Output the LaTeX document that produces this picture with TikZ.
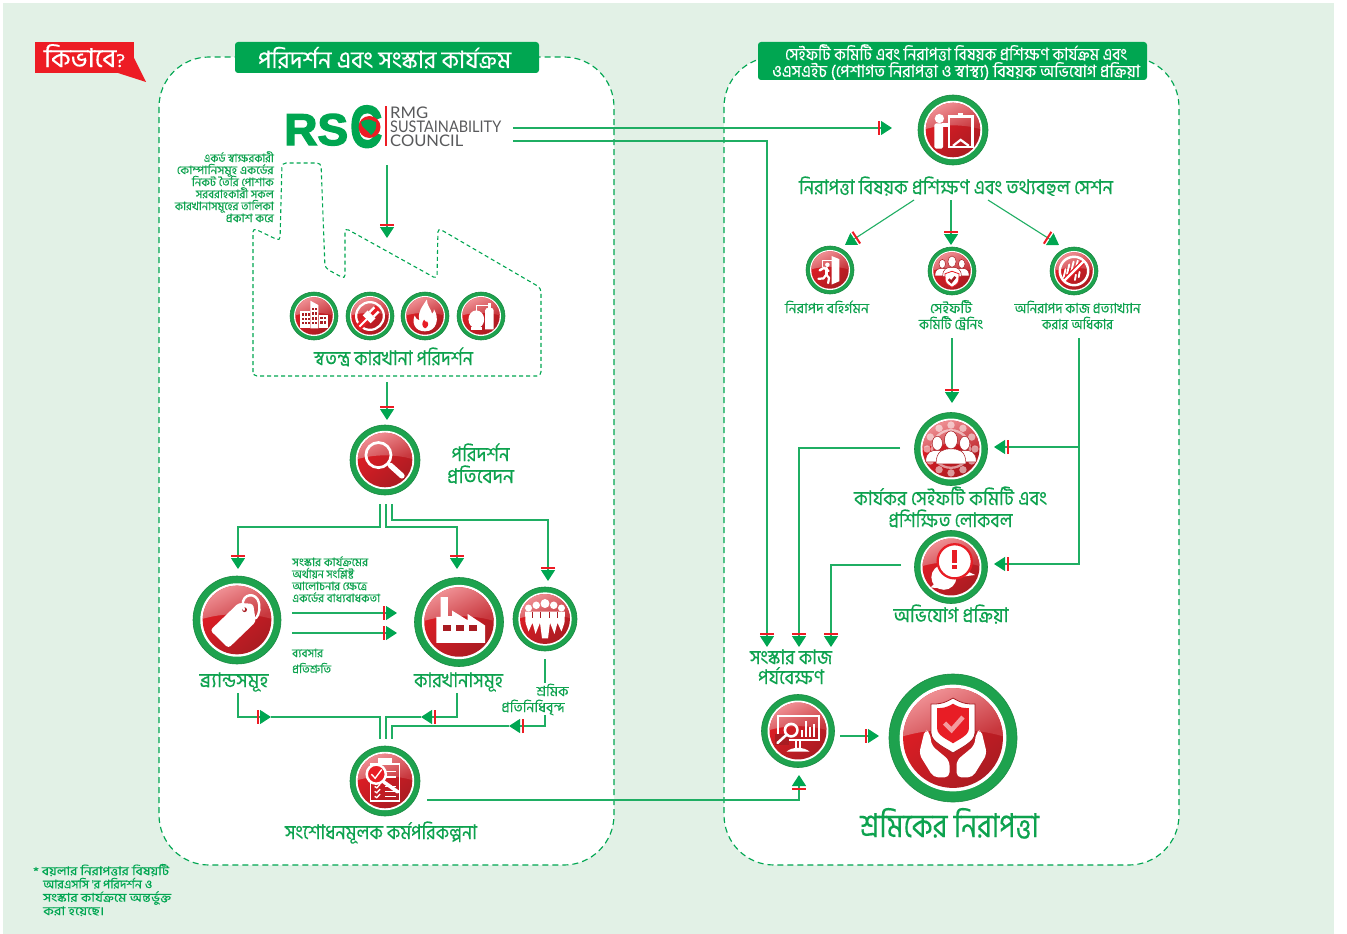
\documentclass[tikz,border=0pt]{standalone}
\usepackage{fontspec}
\usepackage{graphicx}
\usetikzlibrary{arrows.meta}
\newfontfamily\bn[Script=Bengali,FakeBold=0.25]{Hind Siliguri}
\newfontfamily\en{Lato}
\newfontfamily\enb[BoldFeatures={FakeBold=3}]{Liberation Sans}
\definecolor{pagebg}{HTML}{E2F1E6}
\definecolor{tg}{HTML}{0DA24E}
\definecolor{lg}{HTML}{1FAE63}
\definecolor{ag}{HTML}{00A651}
\definecolor{ring}{HTML}{1EA24E}
\definecolor{tick}{HTML}{ED1C24}
\definecolor{rb}{HTML}{E81D25}
\definecolor{rd}{HTML}{A81C22}
\definecolor{gl}{HTML}{F49A9E}
\definecolor{gl2}{HTML}{C8383E}
\definecolor{greytxt}{HTML}{58595B}
\lineskiplimit=-1000pt
\newcommand\ft[3]{\resizebox{#1pt}{\height}{\fontsize{#2}{#2}\selectfont #3}}
\newcommand\pers[4][white]{\begin{scope}[shift={(#2,#3)},scale=#4]
 \filldraw[fill=#1,draw=rd,line width=.5pt] (-.5,.8) .. controls (-.5,.35) and (-.25,.3) .. (0,.3) .. controls (.25,.3) and (.5,.35) .. (.5,.8) -- cycle;
 \filldraw[fill=#1,draw=rd,line width=.5pt] (0,0) ellipse (.22 and .3);
\end{scope}}
\newcommand\icon[5]{%
 \node[iconring,minimum size=#4*2pt] (#1) at (#2,#3) {};
 \pgfmathsetmacro\ru{#4*.78}
 \begin{scope}[shift={(#1.center)},scale=\ru]
  \fill[white] (0,0) circle (1.07);
  \begin{scope}
   \clip (0,0) circle (1);
   \shade[top color=rb,bottom color=rd,shading angle=40] (-1.1,-1.1) rectangle (1.1,1.1);
   \shade[top color=gl,bottom color=gl2,shading angle=25] (-1.05,-.02) .. controls (-.4,-.22) and (.4,-.22) .. (1.05,-.02) -- (1.05,-1.05) -- (-1.05,-1.05) -- cycle;
  \end{scope}
  #5
 \end{scope}}
\tikzset{
 iconring/.style={circle,fill=ring,draw=ring!85!black,line width=.6pt,inner sep=0pt},
 wl/.style={draw=white,line width=#1*\ru pt},
 rl/.style={draw=rd,line width=#1*\ru pt},
 conn/.style={draw=lg,line width=1.1pt},
 arr/.style={conn,-{Bar[color=tick,width=14pt,line width=2pt,sep=1.5pt]Triangle[color=ag,fill=ag,length=11pt,width=14pt]}},
 panel/.style={draw=ag,line width=1.15pt,dash pattern=on 6pt off 4pt,fill=white},
 hdr/.style={fill=ag,rounded corners=3pt,inner sep=0pt},
 bt/.style={text=tg,align=center,inner sep=0pt,anchor=base,font=\bn\fontsize{10}{#1}\selectfont},
 btr/.style={bt=#1,align=right,anchor=base east},
 btl/.style={bt=#1,align=left,anchor=base west},
}
\newcommand\gBuild{
 \fill[white] (-.74,-.28) rectangle (-.22,.66);
 \fill[white] (-.2,-.82) -- (.24,-.58) -- (.24,.66) -- (-.2,.66) -- cycle;
 \fill[white] (.26,-.08) rectangle (.76,.66);
 \foreach \yy in {-.15,.08,.31} \foreach \xx in {-.66,-.5,-.34} \fill[rd] (\xx,\yy) rectangle +(.1,.13);
 \foreach \yy in {-.45,-.2,.05,.3} \foreach \xx in {-.12,.05} \fill[rd] (\xx,\yy) rectangle +(.1,.14);
 \foreach \yy in {.05,.28} \foreach \xx in {.34,.52} \fill[rd] (\xx,\yy) rectangle +(.12,.13);
}
\newcommand\gPlug{
 \draw[wl=.12] (0,0) circle (.74);
 \begin{scope}[rotate=45]
  \fill[rb] (-.9,-.18) rectangle (.62,.18);
  \draw[wl=.1] (-.2,0) .. controls (-.45,0) and (-.5,.05) .. (-.8,0);
  \fill[white] (-.25,-.3) rectangle (.12,.3);
  \fill[white] (.12,-.22) rectangle (.5,-.1);
  \fill[white] (.12,.1) rectangle (.5,.22);
 \end{scope}
}
\newcommand\gFlame{
 \fill[white] (0,.82) .. controls (-.55,.82) and (-.72,.35) .. (-.55,-.02) .. controls (-.48,.16) and (-.38,.22) .. (-.3,.22) .. controls (-.42,-.25) and (-.1,-.55) .. (.1,-.88) .. controls (.1,-.55) and (.32,-.38) .. (.38,-.12) .. controls (.45,-.18) and (.48,-.28) .. (.48,-.36) .. controls (.78,.1) and (.65,.82) .. (0,.82) -- cycle;
 \fill[rb] (0,.66) .. controls (-.16,.58) and (-.2,.38) .. (-.05,.2) .. controls (0,.3) and (.08,.33) .. (.12,.3) .. controls (.22,.44) and (.16,.6) .. (0,.66) -- cycle;
}
\newcommand\gBoiler{
 \fill[white] (-.25,.18) ellipse (.42 and .48);
 \fill[white] (-.55,.6) rectangle (.05,.74);
 \fill[white] (.22,.72) -- (.22,-.3) .. controls (.22,-.5) and (.68,-.5) .. (.68,-.3) -- (.68,.72) -- cycle;
 \fill[white] (.38,-.72) rectangle (.52,-.42);
 \draw[wl=.06] (-.25,-.28) -- (-.25,-.55) -- (.38,-.55);
}
\newcommand\gMag{
 \draw[wl=.1] (-.24,-.18) circle (.46);
 \draw[wl=.2,line cap=round] (.2,.2) -- (.62,.58);
}
\newcommand\gTag{
 \fill[white,rounded corners=3pt] (-.78,.3) -- (-.25,.82) -- (.55,.05) -- (.47,-.47) -- (.05,-.5) -- cycle;
 \fill[rd] (.22,-.3) circle (.07);
 \draw[wl=.07,line cap=round] (.2,-.3) .. controls (.05,-.7) and (.45,-.85) .. (.6,-.6) .. controls (.7,-.4) and (.65,-.15) .. (.55,-.05);
}
\newcommand\gFactory{
 \fill[white] (-.65,.6) -- (-.65,-.15) -- (-.53,-.15) -- (-.53,-.72) -- (-.32,-.72) -- (-.32,-.17) -- (-.2,-.17) -- (-.2,-.33) -- (.25,-.05) -- (.25,-.23) -- (.75,.1) -- (.75,.6) -- cycle;
 \foreach \xx in {-.46,-.08,.3} \fill[rd] (\xx,.1) rectangle +(.23,.16);
}
\newcommand\gWork{
 \fill[white] (-.8,-.3) -- (.8,-.3) -- (.78,.15) -- (.66,.5) -- (.5,.15) -- (.38,.6) -- (.2,.15) -- (.12,.78) -- (-.12,.78) -- (-.2,.15) -- (-.38,.6) -- (-.5,.15) -- (-.66,.5) -- (-.78,.15) -- cycle;
 \fill[white] (-.66,-.44) circle (.14) (-.35,-.55) circle (.15) (0,-.62) circle (.18) (.35,-.55) circle (.15) (.66,-.44) circle (.14);
 \foreach \xx in {-.5,-.18,.18,.5} \draw[rd,line width=.5pt] (\xx,-.3) -- (\xx,-.05);
}
\newcommand\gClip{
 \fill[white] (-.25,-.85) rectangle (.25,-.6);
 \draw[wl=.07,fill=none] (-.53,-.62) rectangle (.53,.73);
 \foreach \yy/\ww in {-.35/.42,-.15/.42,.2/.45,.38/.45,.56/.45} \draw[wl=.05] (\ww-.45,\yy) -- (.42,\yy);
 \foreach \yy in {.2,.38,.56} \draw[wl=.05] (-.38,\yy) -- (-.3,\yy+.05) -- (-.18,\yy-.08);
 \fill[rb] (-.32,-.25) circle (.35);
 \draw[wl=.09] (-.32,-.25) circle (.35);
 \draw[wl=.05] (-.5,-.25) -- (-.36,-.1) -- (-.12,-.42);
 \draw[wl=.13,line cap=round] (-.05,.03) -- (.47,.4);
}
\newcommand\gTrain{
 \fill[white] (-.5,-.42) circle (.17);
 \fill[white,rounded corners=1.5pt] (-.68,-.24) rectangle (-.36,.68);
 \fill[white] (-.4,-.24) rectangle (-.12,-.12);
 \draw[wl=.09] (-.15,-.5) rectangle (.72,.62);
 \fill[white] (.2,-.62) rectangle (.38,-.5);
 \draw[wl=.08] (0,.58) -- (.28,.36) -- (.58,.58);
}
\newcommand\gExit{
 \fill[white] (.08,-.75) -- (.5,-.58) -- (.5,.6) -- (.08,.78) -- cycle;
 \draw[wl=.05] (-.42,-.18) -- (-.42,-.5) -- (.08,-.5);
 \fill[white] (-.14,-.28) circle (.12);
 \draw[wl=.13,line cap=round,line join=round] (-.55,.02) -- (-.32,-.12) -- (-.08,.05);
 \draw[wl=.16,line cap=round] (-.2,-.1) -- (-.2,.25);
 \draw[wl=.12,line cap=round,line join=round] (-.2,.25) -- (-.05,.42) -- (-.1,.7);
 \draw[wl=.12,line cap=round,line join=round] (-.2,.25) -- (-.35,.45) -- (-.62,.47);
}
\newcommand\gTeam{
 \pers{-.52}{-.38}{.8} \pers{.52}{-.38}{.8} \pers{0}{-.5}{1}
 \begin{scope}[shift={(0,.42)},scale=.9]
  \filldraw[fill=white,draw=rb,line width=.8pt] (0,-.45) -- (.42,-.3) -- (.4,.1) .. controls (.36,.3) and (.15,.42) .. (0,.5) .. controls (-.15,.42) and (-.36,.3) .. (-.4,.1) -- (-.42,-.3) -- cycle;
  \draw[rd,line width=.13*\ru pt] (-.2,.02) -- (-.04,.18) -- (.2,-.12);
 \end{scope}
}
\newcommand\gNo{
 \foreach \xx/\yy in {-.45/-.1,-.25/-.35,-.02/-.5,.2/-.55} \draw[wl=.1,line cap=round] (\xx,\yy) -- ({\xx-.12},{\yy+.5});
 \foreach \xx/\yy in {.1/.2,.3/.05} \draw[wl=.1,line cap=round] (\xx,\yy) -- ({\xx-.05},{\yy+.28});
 \draw[rb,line width=.26*\ru pt] (-.6,.6) -- (.6,-.6);
 \draw[wl=.12] (-.55,.55) -- (.55,-.55);
 \draw[wl=.13] (0,0) circle (.76);
}
\newcommand\gGear{
 \foreach \aa in {0,30,...,330} \fill[white,opacity=.55] (\aa:.84) circle (.13);
 \draw[white,opacity=.55,line width=.08*\ru pt] (0,0) circle (.66);
 \pers{-.48}{-.2}{.82} \pers{.48}{-.2}{.82} \pers{0}{-.32}{1.05}
}
\newcommand\gSpeech{
 \fill[white] (-.25,.36) circle (.44);
 \fill[white] (-.55,.55) -- (-.72,.72) -- (-.2,.76) -- cycle;
 \fill[white] (.45,.1) -- (.85,.28) -- (.3,.35) -- cycle;
 \filldraw[fill=white,draw=rb,line width=.08*\ru pt] (.13,-.2) circle (.6);
 \fill[rb] (.04,-.6) rectangle (.2,-.14);
 \fill[rb] (.04,-.07) rectangle (.2,.08);
}
\newcommand\gMonitor{
 \draw[wl=.07] (-.72,-.52) rectangle (.72,.32);
 \fill[rd] (-.82,.12) rectangle (-.3,.5);
 \draw[wl=.09] (-.24,-.03) circle (.22);
 \draw[wl=.09,line cap=round] (-.4,.13) -- (-.72,.42);
 \foreach \xx/\hh in {.1/-.05,.24/-.35,.38/-.15,.52/-.25} \fill[white] (\xx,.22) rectangle ({\xx+.08},\hh);
 \draw[wl=.07] (-.08,.32) -- (-.08,.58) (.08,.32) -- (.08,.58);
 \fill[white] (-.4,.72) .. controls (-.2,.55) and (.2,.55) .. (.4,.72) -- cycle;
}
\newcommand\gHandL{
 \fill[white,rounded corners=5pt] (-.56,-.18) -- (-.68,.32) -- (-.39,.79) -- (-.07,.79) -- (-.07,.45) -- (-.43,.15) -- (-.46,-.1) -- cycle;
}
\newcommand\gHands{
 \gHandL
 \begin{scope}[xscale=-1] \gHandL \end{scope}
 \filldraw[fill=white,draw=rd,line width=.8pt] (0,-.8) .. controls (-.2,-.68) and (-.3,-.68) .. (-.44,-.68) -- (-.44,-.1) .. controls (-.44,.08) and (-.15,.2) .. (0,.3) .. controls (.15,.2) and (.44,.08) .. (.44,-.1) -- (.44,-.68) .. controls (.3,-.68) and (.2,-.68) .. (0,-.8) -- cycle;
 \begin{scope}[shift={(0,-.24)},scale=.72]
 \fill[rb] (0,-.62) .. controls (-.2,-.5) and (-.3,-.5) .. (-.44,-.5) -- (-.44,.08) .. controls (-.44,.26) and (-.15,.38) .. (0,.48) .. controls (.15,.38) and (.44,.26) .. (.44,.08) -- (.44,-.5) .. controls (.3,-.5) and (.2,-.5) .. (0,-.62) -- cycle;
 \end{scope}
 \draw[gl,line width=.09*\ru pt] (-.17,-.3) -- (-.03,-.16) -- (.2,-.42);
}
\begin{document}
\begin{tikzpicture}[x=1pt,y=-1pt]
\useasboundingbox (0,0) rectangle (1347,934);
\fill[pagebg] (3,3) rectangle (1334,934);
\draw[panel,rounded corners=50pt] (159,57) rectangle (614,865);
\draw[panel,rounded corners=50pt] (724,57) rectangle (1179,865);

% how tag
\fill[tick] (35,42) rectangle (134,73);
\fill[tick] (134,58) -- (146,82) -- (118,73) -- cycle;
\node[bt=30,text=white] (how) at (84.5,67) {\ft{81}{26}{কিভাবে{\fontsize{19}{19}\selectfont ?}}};

% headers
\node[hdr,minimum width=304pt,minimum height=31pt] (hleft) at (387,57.5) {};
\node[bt=30,text=white] (hleftt) at (384.5,68) {\ft{253}{24}{পরিদর্শন এবং সংস্কার কার্যক্রম}};
\node[hdr,minimum width=389pt,minimum height=38pt] (hright) at (952.5,61) {};
\node[bt=17,text=white] (hrightt) at (956,77) {\ft{342}{17}{সেইফটি কমিটি এবং নিরাপত্তা বিষয়ক প্রশিক্ষণ কার্যক্রম এবং}\\\ft{368}{17}{ওএসএইচ (পেশাগত নিরাপত্তা ও স্বাস্থ্য) বিষয়ক অভিযোগ প্রক্রিয়া}};

% RSC logo
\node[inner sep=0pt,anchor=base west,text=ag,font=\enb\bfseries] (rsc) at (284,145) {\ft{64}{44.5}{RS}\hspace{2pt}\raisebox{-2pt}{\ft{32}{59}{C}}};
\fill[tick] (369.5,127) circle (11);
\fill[ag] (365,120) .. controls (371,118) and (373,122) .. (376,122) .. controls (377,128) and (375,132) .. (371,135) .. controls (368,130) and (361,128) .. (361,122) -- cycle;
\draw[tick,line width=1.4pt] (386,106) -- (386,146);
\node[inner sep=0pt,anchor=base west,text=greytxt,font=\en,align=left] (council) at (390,118) {\ft{38}{16}{RMG}};
\node[inner sep=0pt,anchor=base west,text=greytxt,font=\en] (council2) at (390,132.5) {\ft{111}{16}{SUSTAINABILITY}};
\node[inner sep=0pt,anchor=base west,text=greytxt,font=\en] (council3) at (390,146.5) {\ft{73}{16}{COUNCIL}};

% list text
\node[btr=12] (listt) at (274,222) {\ft{70}{11.5}{একর্ড স্বাক্ষরকারী}\\\ft{97}{11.5}{কোম্পানিসমূহ একর্ডের}\\\ft{82}{11.5}{নিকট তৈরি পোশাক}\\\ft{78}{11.5}{সরবরাহকারী সকল}\\\ft{99}{11.5}{কারখানাসমূহের তালিকা}\\\ft{48}{11.5}{প্রকাশ করে}};

% factory outline
\draw[draw=ag,line width=1.1pt,dash pattern=on 4pt off 3pt,rounded corners=4pt] (253,376) -- (253,228) -- (280,241) -- (282,163) -- (321,163) -- (325,268) -- (345,279) -- (345,228) -- (437,279) -- (438,228) -- (541,288) -- (541,376) -- cycle;

% inspection icons
\icon{ia}{314}{316}{24}{\gBuild}
\icon{ib}{370}{316}{24}{\gPlug}
\icon{ic}{425}{316}{24}{\gFlame}
\icon{id}{481}{316}{24}{\gBoiler}
\node[bt=20] (indep) at (393.5,365) {\ft{159}{20}{স্বতন্ত্র কারখানা পরিদর্শন}};

\icon{insp}{385}{460}{35}{\gMag}
\node[bt=22] (insplab) at (480.5,483) {\ft{58}{20}{পরিদর্শন}\\\ft{67}{20}{প্রতিবেদন}};

\icon{brand}{237}{620}{44}{\gTag}
\icon{fact}{459}{622}{44.5}{\gFactory}
\icon{work}{545}{619}{32}{\gWork}
\node[bt=20] (brandl) at (234,687) {\ft{69}{20}{ব্র্যান্ডসমূহ}};
\node[bt=20] (factl) at (458.5,687) {\ft{89}{20}{কারখানাসমূহ}};
\node[bt=16] (workl) at (533,712) {\hspace*{39pt}\ft{32}{14}{শ্রমিক}\\\ft{63}{14}{প্রতিনিধিবৃন্দ}};

\node[btl=12] (oblig) at (292,602) {\ft{76}{11.5}{সংস্কার কার্যক্রমের}\\\ft{62}{11.5}{অর্থায়ন সংশ্লিষ্ট}\\\ft{75}{11.5}{আলোচনার ক্ষেত্রে}\\\ft{88}{11.5}{একর্ডের বাধ্যবাধকতা}};
\node[btl=16] (biz) at (292,673) {\ft{31}{11.5}{ব্যবসার}\\\ft{39}{11.5}{প্রতিশ্রুতি}};

\icon{plan}{385}{781}{35}{\gClip}
\node[bt=20] (planl) at (381,839) {\ft{192}{20}{সংশোধনমূলক কর্মপরিকল্পনা}};

% footnote
\node[btl=13.3,text=ag] (foot) at (33,915) {\ft{136}{12}{* বয়লার নিরাপত্তার বিষয়টি}\\\hspace*{10pt}\ft{109}{12}{আরএসসি 'র পরিদর্শন ও}\\\hspace*{10pt}\ft{128}{12}{সংস্কার কার্যক্রমে অন্তর্ভুক্ত}\\\hspace*{10pt}\ft{61}{12}{করা হয়েছে।}};

% right panel
\icon{train}{953}{130}{35}{\gTrain}
\node[bt=20] (trainl) at (956,194) {\ft{314}{20}{নিরাপত্তা বিষয়ক প্রশিক্ষণ এবং তথ্যবহুল সেশন}};
\icon{exit}{830}{270}{24}{\gExit}
\icon{team}{952}{271}{24}{\gTeam}
\icon{refuse}{1074}{271}{24}{\gNo}
\node[bt=16] (exitl) at (827,313) {\ft{84}{14}{নিরাপদ বহির্গমন}};
\node[bt=16] (teaml) at (951,329) {\ft{42}{14}{সেইফটি}\\\ft{64}{14}{কমিটি ট্রেনিং}};
\node[bt=16] (refl) at (1077.5,329) {\ft{126}{14}{অনিরাপদ কাজ প্রত্যাখ্যান}\\\ft{71}{14}{করার অধিকার}};
\icon{comm}{951}{449}{36.5}{\gGear}
\node[bt=22] (comml) at (950.5,527) {\ft{193}{20}{কার্যকর সেইফটি কমিটি এবং}\\\ft{124}{20}{প্রশিক্ষিত লোকবল}};
\icon{griev}{951}{567}{36.5}{\gSpeech}
\node[bt=20] (grievl) at (951,622) {\ft{115}{20}{অভিযোগ প্রক্রিয়া}};
\node[bt=20] (monl) at (791,684) {\ft{82}{20}{সংস্কার কাজ}\\\ft{66}{20}{পর্যবেক্ষণ}};
\icon{mon}{798}{731}{36.5}{\gMonitor}
\icon{safe}{953}{738}{64}{\gHands}
\node[bt=34] (safel) at (949.5,837) {\ft{179}{33}{শ্রমিকের নিরাপত্তা}};

% connector ends
\coordinate (rscA) at (513,128);
\coordinate (rscB) at (513,141);
\coordinate (rscC) at (387,165);
\coordinate (trainIn) at (892,128);
\coordinate (monInA) at (767,647);
\coordinate (factIn) at (387,238);
\coordinate (factOut) at (387,382);
\coordinate (inspIn) at (387,420);
\coordinate (inspA) at (380,504);
\coordinate (inspB) at (386,504);
\coordinate (inspC) at (392,504);
\coordinate (brandIn) at (238,569);
\coordinate (factoryIn) at (457,569);
\coordinate (workIn) at (548,581);
\coordinate (oblA) at (292,613);
\coordinate (oblB) at (397,613);
\coordinate (bizA) at (292,633);
\coordinate (bizB) at (397,633);
\coordinate (workOutA) at (545,659);
\coordinate (workOutB) at (545,683);
\coordinate (brandOut) at (238,693);
\coordinate (brandMid) at (271,717);
\coordinate (planInA) at (380,739);
\coordinate (factOut2) at (457,693);
\coordinate (factMid) at (421,717);
\coordinate (planInB) at (386,739);
\coordinate (workOutC) at (545,715);
\coordinate (workMid) at (509,726);
\coordinate (planInC) at (392,739);
\coordinate (planOut) at (427,800);
\coordinate (monInB) at (799,775);
\coordinate (trA) at (914,200);
\coordinate (trB) at (951,200);
\coordinate (trC) at (988,200);
\coordinate (exitIn) at (845,245);
\coordinate (teamIn) at (951,245);
\coordinate (refIn) at (1059,245);
\coordinate (teamOut) at (952,338);
\coordinate (commIn) at (952,403);
\coordinate (refOut) at (1079,338);
\coordinate (commIn2) at (994,447);
\coordinate (grievIn) at (994,564);
\coordinate (commOut) at (900,448);
\coordinate (monInC) at (799,647);
\coordinate (grievOut) at (901,565);
\coordinate (monInD) at (831,647);
\coordinate (monOut) at (840,736);
\coordinate (safeIn) at (879,736);
\coordinate (turnA) at (300,527);
\coordinate (turnB) at (420,527);
\coordinate (turnC) at (470,520);

% connectors
\draw[arr] (rscA) -- (trainIn);
\draw[arr] (rscB) -| (monInA);
\draw[arr] (rscC) -- (factIn);
\draw[arr] (factOut) -- (inspIn);
\draw[arr] (inspA) |- (turnA) -| (brandIn);
\draw[arr] (inspB) |- (turnB) -| (factoryIn);
\draw[arr] (inspC) |- (turnC) -| (workIn);
\draw[arr] (oblA) -- (oblB);
\draw[arr] (bizA) -- (bizB);
\draw[conn] (workOutA) -- (workOutB);
\draw[arr] (brandOut) |- (brandMid);
\draw[conn] (brandMid) -| (planInA);
\draw[arr] (factOut2) |- (factMid);
\draw[conn] (factMid) -| (planInB);
\draw[arr] (workOutC) |- (workMid);
\draw[conn] (workMid) -| (planInC);
\draw[arr] (planOut) -| (monInB);
\draw[arr] (trA) -- (exitIn);
\draw[arr] (trB) -- (teamIn);
\draw[arr] (trC) -- (refIn);
\draw[arr] (teamOut) -- (commIn);
\draw[arr] (refOut) |- (grievIn);
\draw[arr] (refOut |- commIn2) -- (commIn2);
\draw[arr] (commOut) -| (monInC);
\draw[arr] (grievOut) -| (monInD);
\draw[arr] (monOut) -- (safeIn);
\end{tikzpicture}
\end{document}
